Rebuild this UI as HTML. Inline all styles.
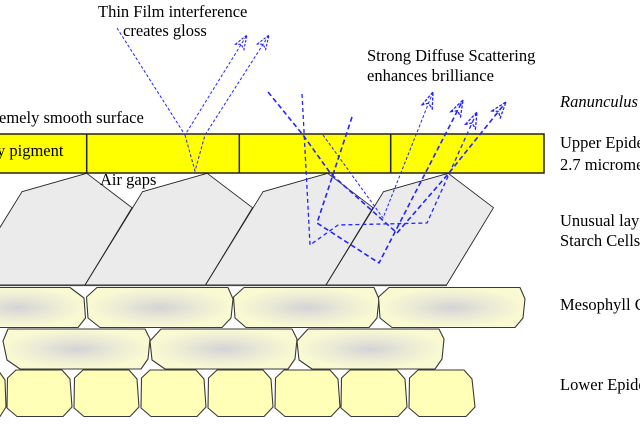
<!DOCTYPE html>
<html>
<head>
<meta charset="utf-8">
<style>
  html,body{margin:0;padding:0;background:#fff;}
  body{width:640px;height:424px;overflow:hidden;}
  svg{display:block;}
  text{font-family:"Liberation Serif","Times New Roman",serif;font-size:16.5px;fill:#000;}
</style>
</head>
<body>
<svg width="640" height="424" viewBox="0 0 640 424" xmlns="http://www.w3.org/2000/svg">
  <defs>
    <radialGradient id="meso" cx="0.5" cy="0.5" r="0.5">
      <stop offset="0" stop-color="#d3d3d6"/>
      <stop offset="0.5" stop-color="#e9e9d6"/>
      <stop offset="1" stop-color="#fafad2"/>
    </radialGradient>
    <marker id="arr" markerUnits="userSpaceOnUse" viewBox="-1 -1 18 13" refX="16" refY="5.5" markerWidth="18" markerHeight="13" orient="auto">
      <path d="M0,0 L16,5.5 L0,11 L4,5.5 Z" fill="none" stroke="#2424ff" stroke-width="1.3" stroke-dasharray="3,1.5"/>
    </marker>
    <marker id="arrS" markerUnits="userSpaceOnUse" viewBox="-1 -1 16 12" refX="14" refY="5" markerWidth="16" markerHeight="12" orient="auto">
      <path d="M0,0 L14,5 L0,10 L3,5 Z" fill="none" stroke="#2424ff" stroke-width="1.1" stroke-dasharray="2.5,1.5"/>
    </marker>
  </defs>

  <!-- Yellow upper epidermis band -->
  <rect x="-5" y="134" width="549" height="39" fill="#ffff00" stroke="#222" stroke-width="1.5"/>
  <line x1="86.7" y1="134" x2="86.7" y2="173" stroke="#222" stroke-width="1.5"/>
  <line x1="239.3" y1="134" x2="239.3" y2="173" stroke="#222" stroke-width="1.5"/>
  <line x1="390.7" y1="134" x2="390.7" y2="173" stroke="#222" stroke-width="1.5"/>

  <!-- Starch cells -->
  <g fill="#ebebeb" stroke="#222" stroke-width="0.9" stroke-linejoin="round">
    <polygon points="86.7,173.3 132,207.7 85,285 -35.5,285 22,191.7"/>
    <polygon points="207.2,173.3 252.5,207.7 205.5,285 85,285 142.5,191.7"/>
    <polygon points="327.7,173.3 373,207.7 326,285 205.5,285 263,191.7"/>
    <polygon points="448.2,173.3 493.5,207.7 446.5,285 326,285 383.5,191.7"/>
  </g>
  <line x1="0" y1="285.5" x2="447" y2="285.5" stroke="#444" stroke-width="1.2"/>

  <!-- Mesophyll row 1 -->
  <g fill="url(#meso)" stroke="#3a3a3a" stroke-width="1.1" stroke-linejoin="round">
    <polygon points="-50,287.5 70,287.5 84,298 85.5,318 78,327.5 -50,327.5"/>
    <polygon points="97,287.5 228,287.5 233,299 231,318 222,327.5 100,327.5 88,318 86.5,297"/>
    <polygon points="244,287.5 374,287.5 379,299 377,318 369,327.5 246,327.5 235,318 233.5,297"/>
    <polygon points="389,287.5 520,287.5 525,299 523,318 515,327.5 392,327.5 380,318 378.5,297"/>
  </g>
  <!-- Mesophyll row 2 -->
  <g fill="url(#meso)" stroke="#3a3a3a" stroke-width="1.1" stroke-linejoin="round">
    <polygon points="8,329 145,329 150,339 148,359 141,369 20,369 7,360 3,341"/>
    <polygon points="161,329 292,329 297,339 295,359 288,369 165,369 152,360 150,341"/>
    <polygon points="308,329 439,329 444,339 442,359 435,369 312,369 299,360 297,341"/>
  </g>
  <!-- Lower epidermis -->
  <g fill="#ffffb8" stroke="#3a3a3a" stroke-width="1.1" stroke-linejoin="round">
    <polygon points="-40,370 -2,370 5,380 6,407 0,416.5 -40,416.5"/>
    <polygon points="16,370 62,370 70,379 72,407 63,416.5 17,416.5 7,408 7.5,378"/>
    <polygon points="83,370 129,370 137,379 139,407 130,416.5 84,416.5 74,408 74.5,378"/>
    <polygon points="150,370 196,370 204,379 206,407 197,416.5 151,416.5 141,408 141.5,378"/>
    <polygon points="217,370 263,370 271,379 273,407 264,416.5 218,416.5 208,408 208.5,378"/>
    <polygon points="284,370 330,370 338,379 340,407 331,416.5 285,416.5 275,408 275.5,378"/>
    <polygon points="350,370 397,370 405,379 407,407 398,416.5 351,416.5 341,408 341.5,378"/>
    <polygon points="418,370 464,370 472,379 475,407 466,416.5 419,416.5 409,408 409.5,378"/>
  </g>

  <!-- Thin film rays -->
  <g fill="none" stroke="#2424ff" stroke-width="1" stroke-dasharray="3,2">
    <polyline points="117,28 185,135 247,35" marker-end="url(#arrS)"/>
    <polyline points="185,135 195,171 205,135 269,35" marker-end="url(#arrS)"/>
  </g>

  <!-- Diffuse scattering rays -->
  <g fill="none" stroke="#2424ff" stroke-linejoin="round">
    <polyline points="268,92 303,135 331,174 397,233 449,173 506,102" stroke-width="1.6" stroke-dasharray="5,3" marker-end="url(#arr)"/>
    <polyline points="302,94 305,150 310,245 338,225 427,223 477,112" stroke-width="1.3" stroke-dasharray="4,3" marker-end="url(#arr)"/>
    <polyline points="352,117 317,223 379,263 463,100" stroke-width="1.6" stroke-dasharray="5,3" marker-end="url(#arr)"/>
    <polyline points="323,135 383,218 433,92" stroke-width="1" stroke-dasharray="3,2" marker-end="url(#arr)"/>
  </g>

  <!-- Text -->
  <text x="98" y="17">Thin Film interference</text>
  <text x="123" y="36">creates gloss</text>
  <text x="367" y="61">Strong Diffuse Scattering</text>
  <text x="367" y="81">enhances brilliance</text>
  <text x="-1" y="123">emely smooth surface</text>
  <text x="-3" y="156">y pigment</text>
  <text x="100" y="185">Air gaps</text>

  <text x="560" y="107" font-style="italic">Ranunculus acris</text>
  <text x="560" y="148">Upper Epidermis</text>
  <text x="560" y="170">2.7 micrometers</text>
  <text x="560" y="226">Unusual layer of</text>
  <text x="560" y="246">Starch Cells</text>
  <text x="560" y="310">Mesophyll Cells</text>
  <text x="560" y="390">Lower Epidermis</text>
</svg>
</body>
</html>
